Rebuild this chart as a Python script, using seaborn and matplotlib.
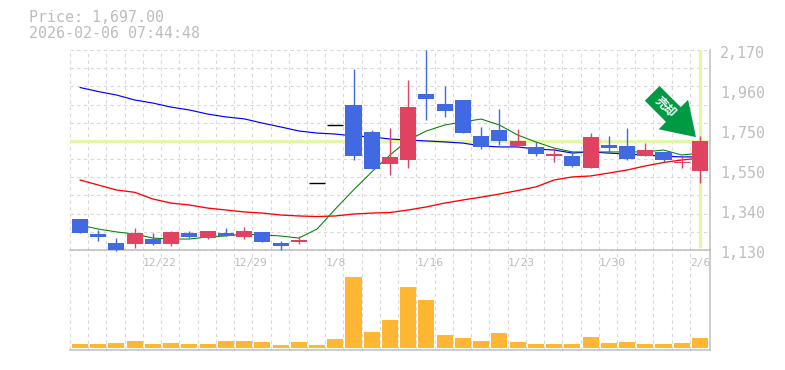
import matplotlib
matplotlib.use("Agg")
import matplotlib.pyplot as plt
import seaborn as sns
import pandas as pd
import numpy as np

W, H = 785, 370
GRID = "#D8D8D8"
SPINE = "#BEBEBE"
TXT = "#BDBDBD"
UP = "#E0435F"
DOWN = "#4169E1"
VOL = "#FFB733"
HI = "#E3F6A9"

open_ = [1291,1213,1166,1161,1187,1161,1218,1192,1218,1198,1224,1166,1172,1477,1778,
         1884,1744,1577,1598,1941,1889,1910,1723,1754,1671,1666,1619,1619,1556,1676,
         1671,1619,1640,1582,1541]
close = [1218,1198,1130,1218,1161,1224,1198,1229,1203,1229,1172,1151,1182,1477,1778,
         1619,1551,1614,1874,1915,1853,1738,1666,1697,1697,1629,1629,1567,1718,1660,
         1603,1650,1598,1588,1697]
high  = [1291,1234,1192,1244,1218,1229,1229,1229,1244,1250,1224,1177,1203,1477,1778,
         2071,1754,1764,2014,2170,1983,1910,1770,1863,1759,1692,1660,1634,1738,1723,
         1764,1686,1640,1619,1723]
low   = [1218,1177,1125,1140,1156,1151,1192,1187,1203,1187,1172,1130,1161,1477,1778,
         1598,1551,1520,1556,1806,1822,1738,1655,1676,1671,1619,1588,1562,1556,1640,
         1598,1619,1588,1556,1478]
ma_long = [1975,1954,1936,1910,1894,1873,1858,1837,1822,1812,1790,1770,1749,1738,1733,
           1723,1718,1707,1702,1697,1692,1686,1671,1666,1666,1655,1650,1634,1640,1634,
           1629,1624,1618,1614,1614]
ma_short = [1260,1239,1224,1213,1192,1187,1187,1198,1203,1213,1208,1203,1192,1239,1343,
            1442,1536,1624,1702,1749,1780,1796,1811,1780,1728,1692,1660,1640,1640,1640,
            1640,1640,1650,1624,1634]
ma_mid = [1494,1468,1442,1430,1395,1374,1364,1348,1338,1328,1322,1312,1307,1304,1307,
          1317,1322,1325,1338,1354,1374,1390,1405,1421,1439,1458,1494,1510,1515,1530,
          1546,1567,1585,1598,1608]
volume = [4,4,5,7,4,5,4,4,7,7,6,3,6,3,9,71,16,28,61,48,13,10,7,15,6,4,4,4,11,5,6,4,4,5,10]
date_labels = ["12/22","12/29","1/8","1/16","1/23","1/30","2/6"]
date_index = [4,9,14,19,24,29,34]
price_labels = ["2,170","1,960","1,750","1,550","1,340","1,130"]
last_price = 1697
title_lines = ["Price: 1,697.00","2026-02-06 07:44:48"]
sig_text = "売却"

n = len(close)
idx = np.arange(n)
df = pd.DataFrame(dict(i=idx, o=open_, c=close, h=high, l=low, vol=volume,
                       ma_long=ma_long, ma_mid=ma_mid, ma_short=ma_short))

sns.set_theme(style="white", rc={"axes.facecolor":"white","figure.facecolor":"white"})
plt.rcParams["font.family"] = ["DejaVu Sans Mono", "Noto Sans CJK JP"]

fig = plt.figure(figsize=(W/100, H/100), dpi=100)
ax = fig.add_axes([70/W, (H-250)/H, 640/W, 200/H])
axv = fig.add_axes([70/W, (H-350)/H, 640/W, 100/H], sharex=ax)

XMIN, XMAX = -0.548, 34.55
grid_x = idx - 0.55
grid_y = np.linspace(1130, 2170, 12)
DASH = (0, (3, 3))

for a in (ax, axv):
    a.set_xlim(XMIN, XMAX)
    a.set_facecolor("none")
    for s in a.spines.values():
        s.set_visible(False)
    for gx in grid_x:
        a.axvline(gx, color=GRID, lw=0.8, ls=DASH, zorder=0, clip_on=False)
    a.spines["bottom"].set_visible(True)
    a.spines["right"].set_visible(True)
    a.spines["bottom"].set_color(SPINE)
    a.spines["right"].set_color(SPINE)
    a.spines["bottom"].set_linewidth(1.1)
    a.spines["right"].set_linewidth(1.1)

ax.set_ylim(1130, 2170)
for gy in grid_y:
    ax.axhline(gy, color=GRID, lw=0.8, ls=DASH, zorder=0, clip_on=False)

# highlight of latest price and date
ax.axhline(last_price, color=HI, lw=2.4, zorder=1)
ax.plot([idx[-1], idx[-1]], [1140, 2170], color=HI, lw=2.4, zorder=1, solid_capstyle="butt")

# moving averages
for col, colr, lw in (("ma_long","#0000FF",0.85),("ma_mid","#FF0000",0.95),("ma_short","#008000",0.75)):
    sns.lineplot(data=df, x="i", y=col, ax=ax, color=colr, lw=lw, zorder=2, errorbar=None)

# candles
for r in df.itertuples():
    if r.o == r.c:
        ax.plot([r.i-0.45, r.i+0.45], [r.c, r.c], color="black", lw=1.0, zorder=3, solid_capstyle="butt")
        continue
    col = UP if r.c > r.o else DOWN
    ax.plot([r.i, r.i], [r.l, r.h], color=col, lw=1.0, zorder=3, solid_capstyle="butt", clip_on=False)
    ax.bar(r.i, abs(r.c-r.o), bottom=min(r.o, r.c), width=0.88, color=col, lw=0, zorder=4)

ax.set_xlabel(""); ax.set_ylabel("")
ax.tick_params(left=False, bottom=False, labelleft=False, labelbottom=False)

# volume
sns.barplot(data=df, x="i", y="vol", ax=axv, color=VOL, width=0.88, saturation=1,
            native_scale=True, zorder=2, linewidth=0)
axv.set_xlim(XMIN, XMAX)
axv.set_ylim(-2.3, 97.7)
axv.set_xlabel(""); axv.set_ylabel("")
axv.tick_params(left=False, bottom=False, labelleft=False)
axv.set_xticks([i-0.55 for i in date_index])
axv.set_xticklabels(date_labels, ha="left", fontsize=8.1, color=TXT)
axv.tick_params(axis="x", labeltop=True, labelbottom=False, top=False, pad=-13, length=0)
ax.tick_params(labelbottom=False, bottom=False)

# right price labels
label_y_px = [53, 93, 133, 173, 213, 253]
for lab, yp in zip(price_labels, label_y_px):
    fig.text(720/W, 1-yp/H, lab, fontsize=10.8, color=TXT, va="center", ha="left")

# header
fig.text(29/W, 1-18/H, title_lines[0], fontsize=10.8, color=TXT, va="center", ha="left")
fig.text(29/W, 1-33/H, title_lines[1], fontsize=10.8, color=TXT, va="center", ha="left")

# signal arrow
tip = (idx[-1]-0.22, 1717)
ax.annotate("", xy=tip, xycoords="data", xytext=(-31.5, 31.5), textcoords="offset points",
            arrowprops=dict(arrowstyle="simple,head_length=23,head_width=30,tail_width=15",
                            mutation_scale=1, color="#009A44", lw=0, shrinkA=0, shrinkB=0),
            zorder=6, annotation_clip=False)
ax.text(665/W, 1-107/H, sig_text, transform=fig.transFigure, rotation=-45, rotation_mode="anchor",
        ha="center", va="center", color="white", fontsize=8.5, fontweight="bold",
        family=["Noto Sans CJK JP"], zorder=7)

fig.savefig("out.png", dpi=100)
